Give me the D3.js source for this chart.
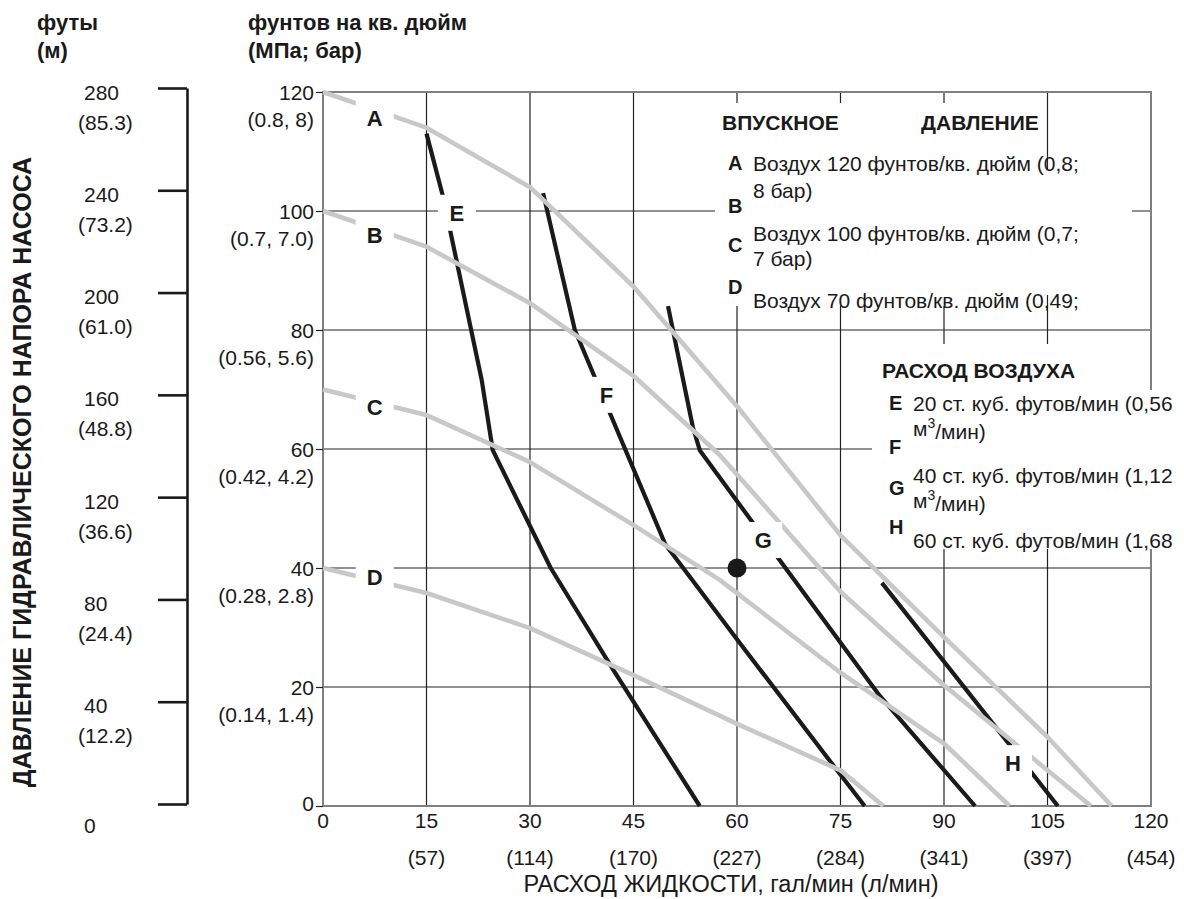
<!DOCTYPE html>
<html>
<head>
<meta charset="utf-8">
<script src="https://cdn.jsdelivr.net/npm/d3@7"></script>
<style>
  body { margin: 0; background: #fff; }
  svg text { font-family: "Liberation Sans", Arial, sans-serif; fill: #1a1a1a; }
</style>
</head>
<body>
<svg id="chart" width="1184" height="899"></svg>
<script>
// --- data ---
const flowTicks = [0, 15, 30, 45, 60, 75, 90, 105, 120];
const flowLitres = ['', '(57)', '(114)', '(170)', '(227)', '(284)', '(341)', '(397)', '(454)'];
const psiTicks = [0, 20, 40, 60, 80, 100, 120];
const psiMetric = ['', '(0.14, 1.4)', '(0.28, 2.8)', '(0.42, 4.2)', '(0.56, 5.6)', '(0.7, 7.0)', '(0.8, 8)'];
const feetTicks = [0, 40, 80, 120, 160, 200, 240, 280];
const feetMetres = ['', '(12.2)', '(24.4)', '(36.6)', '(48.8)', '(61.0)', '(73.2)', '(85.3)'];

// inlet air pressure curves (gpm, psi)
const curveA = [[0, 120], [15, 114], [30, 104], [45, 87.3], [60, 67.2], [75, 45.5], [90, 28.4], [105, 11.6], [114.3, 0]];
const curveB = [[0, 100], [15, 94], [30, 84.5], [45, 72.3], [57.5, 59], [75, 36], [90, 20.3], [111.3, 0]];
const curveC = [[0, 70], [15, 65.7], [30, 57.8], [45, 47.2], [57.5, 38], [75, 22.4], [90, 10.5], [99.5, 0]];
const curveD = [[0, 40], [15, 35.8], [30, 29.9], [45, 22], [60, 13.8], [75, 6], [81.2, 0]];
// air consumption curves
const curveE = [[15, 113], [17.4, 102.4], [23, 71.6], [24.6, 59.8], [33, 40], [42, 23], [54.6, 0]];
const curveF = [[31.9, 103], [36.5, 80], [49.6, 44], [60.4, 27.4], [74.5, 6], [78.5, 0]];
const curveG = [[50, 84], [53.6, 63.7], [54.6, 59.8], [62.3, 47.6], [66.2, 41.3], [80.7, 18.5], [94.5, 0]];
const curveH = [[81, 37.5], [106.5, 0]];

const pressureCurves = [curveA, curveB, curveC, curveD];
const airCurves = [curveE, curveF, curveG, curveH];

const curveNames = ['A', 'B', 'C', 'D', 'E', 'F', 'G', 'H'];
const labelAt = [[7.5, 115.6], [7.5, 96], [7.5, 67], [7.5, 38.5], [19.4, 99.7], [41.1, 69.1], [63.8, 44.7], [100, 7.2]];
const marker = [60, 40];

const inletTitle = ['ВПУСКНОЕ', 'ДАВЛЕНИЕ'];
const inletLines = ['Воздух 120 фунтов/кв. дюйм (0,8;', '8 бар)', 'Воздух 100 фунтов/кв. дюйм (0,7;', '7 бар)', 'Воздух 70 фунтов/кв. дюйм (0,49;'];
const airTitle = 'РАСХОД ВОЗДУХА';
const airLines = ['20 ст. куб. футов/мин (0,56', 'м|3|/мин)', '40 ст. куб. футов/мин (1,12', 'м|3|/мин)', '60 ст. куб. футов/мин (1,68'];

// --- drawing ---
const svg = d3.select('#chart');
const x = d3.scaleLinear().domain([0, 120]).range([323, 1151]);
const y = d3.scaleLinear().domain([0, 120]).range([806, 92]);
const yFt = d3.scaleLinear().domain([0, 280]).range([804, 88]);
const fs = '21px';

// grid
svg.append('g').selectAll('line')
    .data(flowTicks.slice(1, -1))
    .join('line')
    .attr('x1', d => x(d)).attr('x2', d => x(d))
    .attr('y1', y(120)).attr('y2', y(0))
    .attr('stroke', '#222').attr('stroke-width', 1.2);
svg.append('g').selectAll('line')
    .data(psiTicks.slice(1, -1))
    .join('line')
    .attr('x1', x(0)).attr('x2', x(120))
    .attr('y1', d => y(d)).attr('y2', d => y(d))
    .attr('stroke', '#222').attr('stroke-width', 1.2);

svg.append('rect')
    .attr('x', x(0)).attr('y', y(120))
    .attr('width', x(120) - x(0)).attr('height', y(0) - y(120))
    .attr('fill', 'none').attr('stroke', '#808080').attr('stroke-width', 2);

// short psi ticks
const psiAxis = svg.append('g')
    .attr('transform', `translate(${x(0)},0)`)
    .call(d3.axisLeft(y).tickValues(psiTicks).tickSize(7).tickFormat(''));
psiAxis.select('.domain').remove();
psiAxis.selectAll('line').attr('stroke', '#222').attr('stroke-width', 1.2);

// feet axis
const ftAxis = svg.append('g')
    .attr('transform', 'translate(187,0)')
    .call(d3.axisLeft(yFt).tickValues(feetTicks).tickSize(29).tickSizeOuter(0).tickFormat(''));
ftAxis.select('.domain').attr('stroke', '#1a1a1a').attr('stroke-width', 2.6);
ftAxis.selectAll('line').attr('stroke', '#1a1a1a').attr('stroke-width', 2.6);

// legend backgrounds (they cut the grid)
[[715, 103, 325, 203], [1040, 170, 92, 125], [875, 344, 205, 46], [872, 390, 312, 159]].forEach(r => {
    svg.append('rect').attr('x', r[0]).attr('y', r[1]).attr('width', r[2]).attr('height', r[3]).attr('fill', '#fff');
});

// curves
const line = d3.line().x(d => x(d[0])).y(d => y(d[1]));
svg.append('g').selectAll('path')
    .data(airCurves)
    .join('path')
    .attr('d', line)
    .attr('fill', 'none').attr('stroke', '#1a1a1a').attr('stroke-width', 4.2)
    .attr('stroke-linejoin', 'round');
svg.append('g').selectAll('path')
    .data(pressureCurves)
    .join('path')
    .attr('d', line)
    .attr('fill', 'none').attr('stroke', '#c8c8c8').attr('stroke-width', 4.6)
    .attr('stroke-linejoin', 'round');

// curve labels
const lab = svg.append('g').selectAll('g')
    .data(curveNames)
    .join('g')
    .attr('transform', (d, i) => `translate(${x(labelAt[i][0])},${y(labelAt[i][1])})`);
lab.append('rect')
    .attr('x', -19).attr('y', -18).attr('width', 38).attr('height', 36)
    .attr('fill', '#fff');
lab.append('text')
    .attr('text-anchor', 'middle').attr('dy', '0.36em')
    .style('font-size', '22px').style('font-weight', 'bold')
    .text(d => d);

svg.append('circle')
    .attr('cx', x(marker[0])).attr('cy', y(marker[1])).attr('r', 9.5)
    .attr('fill', '#1a1a1a');

// psi labels
svg.append('g').selectAll('text')
    .data(psiTicks)
    .join('text')
    .attr('x', 314).attr('y', d => y(d) - (d === 0 ? 3 : 0)).attr('dy', '0.36em')
    .attr('text-anchor', 'end').style('font-size', fs)
    .text(d => d);
svg.append('g').selectAll('text')
    .data(psiMetric)
    .join('text')
    .attr('x', 314).attr('y', (d, i) => y(psiTicks[i]) + 27).attr('dy', '0.36em')
    .attr('text-anchor', 'end').style('font-size', fs)
    .text(d => d);

// feet labels
svg.append('g').selectAll('text')
    .data(feetTicks)
    .join('text')
    .attr('x', 84).attr('y', d => yFt(d) + (d === 0 ? 21 : 4)).attr('dy', '0.36em')
    .style('font-size', fs)
    .text(d => d);
svg.append('g').selectAll('text')
    .data(feetMetres)
    .join('text')
    .attr('x', 78).attr('y', (d, i) => yFt(feetTicks[i]) + 34).attr('dy', '0.36em')
    .style('font-size', fs)
    .text(d => d);

// flow labels
svg.append('g').selectAll('text')
    .data(flowTicks)
    .join('text')
    .attr('x', d => x(d)).attr('y', 820).attr('dy', '0.36em')
    .attr('text-anchor', 'middle').style('font-size', fs)
    .text(d => d);
svg.append('g').selectAll('text')
    .data(flowLitres)
    .join('text')
    .attr('x', (d, i) => x(flowTicks[i])).attr('y', 857).attr('dy', '0.36em')
    .attr('text-anchor', 'middle').style('font-size', fs)
    .text(d => d);

// axis titles
svg.append('text')
    .attr('x', 731).attr('y', 884).attr('dy', '0.36em')
    .attr('text-anchor', 'middle').style('font-size', '23.5px')
    .text('РАСХОД ЖИДКОСТИ, гал/мин (л/мин)');
svg.append('text')
    .attr('transform', 'translate(22,472) rotate(-90)').attr('dy', '0.36em')
    .attr('text-anchor', 'middle').style('font-size', '25px').style('font-weight', 'bold')
    .text('ДАВЛЕНИЕ ГИДРАВЛИЧЕСКОГО НАПОРА НАСОСА');

[['футы', 37, 22], ['(м)', 37, 50], ['фунтов на кв. дюйм', 248, 22], ['(МПа; бар)', 248, 50]].forEach(t => {
    svg.append('text').attr('x', t[1]).attr('y', t[2]).attr('dy', '0.36em')
        .style('font-size', '22px').style('font-weight', 'bold').text(t[0]);
});

// inlet pressure legend
svg.append('text').attr('x', 722).attr('y', 122).attr('dy', '0.36em')
    .style('font-size', fs).style('font-weight', 'bold').text(inletTitle[0]);
svg.append('text').attr('x', 921).attr('y', 122).attr('dy', '0.36em')
    .style('font-size', fs).style('font-weight', 'bold').text(inletTitle[1]);
const inletLetterY = [163, 206, 245, 287];
const inletLineY = [163, 190, 233, 258, 300];
svg.append('g').selectAll('text')
    .data(curveNames.slice(0, 4))
    .join('text')
    .attr('x', 728).attr('y', (d, i) => inletLetterY[i]).attr('dy', '0.36em')
    .style('font-size', '20px').style('font-weight', 'bold')
    .text(d => d);
svg.append('g').selectAll('text')
    .data(inletLines)
    .join('text')
    .attr('x', 753).attr('y', (d, i) => inletLineY[i]).attr('dy', '0.36em')
    .style('font-size', fs)
    .text(d => d);

// air consumption legend
svg.append('text').attr('x', 882).attr('y', 370).attr('dy', '0.36em')
    .style('font-size', fs).style('font-weight', 'bold').text(airTitle);
const airLetterY = [403, 447, 488, 527];
const airLineY = [403, 428, 475, 500, 540];
svg.append('g').selectAll('text')
    .data(curveNames.slice(4))
    .join('text')
    .attr('x', 889).attr('y', (d, i) => airLetterY[i]).attr('dy', '0.36em')
    .style('font-size', '20px').style('font-weight', 'bold')
    .text(d => d);
const airText = svg.append('g').selectAll('text')
    .data(airLines)
    .join('text')
    .attr('x', 913).attr('y', (d, i) => airLineY[i]).attr('dy', '0.36em')
    .style('font-size', fs);
airText.each(function (d) {
    const parts = d.split('|');
    const t = d3.select(this);
    if (parts.length === 1) { t.text(d); return; }
    t.append('tspan').text(parts[0]);
    t.append('tspan').attr('dy', '-0.55em').style('font-size', '14px').text(parts[1]);
    t.append('tspan').attr('dy', '0.55em').text(parts[2]);
});
</script>
</body>
</html>
